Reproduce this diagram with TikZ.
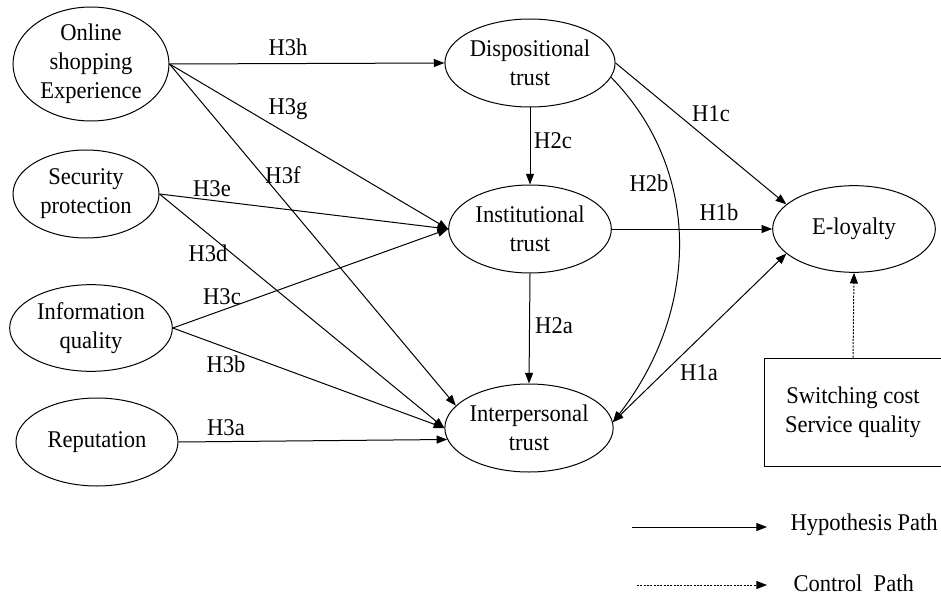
\documentclass[tikz,border=0pt]{standalone}
\usepackage{fontspec}
\setmainfont[FakeStretch=0.94]{Liberation Serif}
\usetikzlibrary{shapes.geometric,arrows.meta}

\tikzset{every picture/.style={line width=0.75pt}}
\tikzset{
  construct/.style={draw, ellipse, inner sep=0pt, align=center},
  hyp/.style={-{Triangle[length=8pt,width=6pt]}},
  hypboth/.style={{Triangle[length=8pt,width=6pt]}-{Triangle[length=8pt,width=6pt]}},
  ctrl/.style={hyp, dash pattern=on 1.5pt off 1pt},
  plabel/.style={inner sep=0.75pt},
}

\begin{document}
\begin{tikzpicture}[x=0.75pt,y=0.75pt,yscale=-1,xscale=1,font=\fontsize{18}{21.75}\selectfont]
\path[use as bounding box, clip] (0,0) rectangle (941,599);

%Ellipses
\node[construct, minimum width=117pt, minimum height=85.5pt] (online) at (91,64) {Online\\shopping\\Experience};
\node[construct, minimum width=109.5pt, minimum height=66pt] (secur) at (86,194) {Security\\protection};
\node[construct, minimum width=122pt, minimum height=65pt] (info) at (91,328) {Information\\quality};
\node[construct, minimum width=121.5pt, minimum height=66pt] (reput) at (97,442) {Reputation};
\node[construct, minimum width=122pt, minimum height=66pt] (disp) at (530,63) {Dispositional\\trust};
\node[construct, minimum width=122pt, minimum height=66pt] (inst) at (530,229) {Institutional\\trust};
\node[construct, minimum width=119pt, minimum height=66pt] (inter) at (529,428) {Interpersonal\\trust};
\node[construct, minimum width=122pt, minimum height=65pt] (eloy) at (854,229) {E-loyalty};
%Rectangle
\node[draw, align=center, minimum width=133.5pt, minimum height=81pt] (ctrlbox) at (853,412) {Switching cost\\Service quality};

%Straight Lines
\draw[hyp] (online.east) -- (disp.west);
\draw[hyp] (online.east) -- (inst.west);
\draw[hyp] (online.east) -- (inter.163);
\draw[hyp] (secur.east) -- (inst.west);
\draw[hyp] (secur.east) -- (inter.west);
\draw[hyp] (info.east) -- (inst.west);
\draw[hyp] (info.east) -- (inter.west);
\draw[hyp] (reput.east) -- (inter.188);
\draw[hyp] (disp.south) -- (inst.north);
\draw[hyp] (inst.south) -- (inter.north);
\draw[hyp] (disp.east) -- (eloy.160);
\draw[hyp] (inst.east) -- (eloy.west);
\draw[hypboth] (eloy.200) -- (inter.4);
%Curve Lines
\draw[hyp] (disp.-10) .. controls (702,170) and (700,310) .. (inter.4);
%Dotted Line
\draw[ctrl] (ctrlbox.north) -- (eloy.south);

% Text Node
\node[plabel] (lH3h) at (288,47) {H3h};
\node[plabel] (lH3g) at (288,109) {H3g};
\node[plabel] (lH3f) at (283,175) {H3f};
\node[plabel] (lH3e) at (212,189) {H3e};
\node[plabel] (lH3d) at (208,253) {H3d};
\node[plabel] (lH3c) at (222,297) {H3c};
\node[plabel] (lH3b) at (226,364) {H3b};
\node[plabel] (lH3a) at (226,428) {H3a};
\node[plabel] (lH2c) at (553,141) {H2c};
\node[plabel] (lH2b) at (649,183) {H2b};
\node[plabel] (lH2a) at (554,326) {H2a};
\node[plabel] (lH1c) at (711,114) {H1c};
\node[plabel] (lH1b) at (719,212) {H1b};
\node[plabel] (lH1a) at (699,373) {H1a};

%Legend
\coordinate (hypS) at (632,527);
\coordinate (hypE) at (767,527);
\draw[hyp] (hypS) -- (hypE);
\node[anchor=west, plabel] (hypT) at (789,525) {Hypothesis Path};
\coordinate (ctlS) at (637,585);
\coordinate (ctlE) at (767,585);
\draw[ctrl] (ctlS) -- (ctlE);
\node[anchor=west, plabel] (ctlT) at (792,583) {Control\ \ Path};

\end{tikzpicture}
\end{document}
